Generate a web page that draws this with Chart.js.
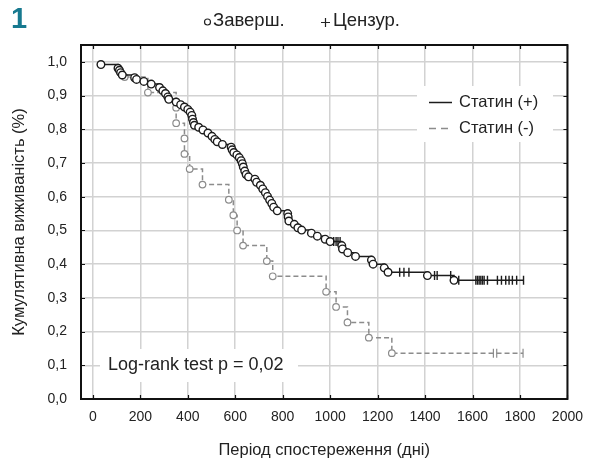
<!DOCTYPE html>
<html><head><meta charset="utf-8">
<script src="https://cdn.jsdelivr.net/npm/chart.js@4/dist/chart.umd.min.js"></script>
<style>html,body{margin:0;padding:0;background:#fff}#wrap{position:relative;width:593px;height:463px}</style>
</head><body><div id="wrap"><canvas id="c" width="593" height="463"></canvas></div>
<script>
// ---- data ----
const seriesNames = ["Статин (+)", "Статин (-)"];
const headerLabels = ["Заверш.", "Цензур."];
const panelLabel = "1";
const logRankText = "Log-rank test p = 0,02";
const xAxisTitle = "Період спостереження (дні)";
const yAxisTitle = "Кумулятивна виживаність (%)";

const posEventDays = [34,106,112,117,124,176,184,215,246,281,295,306,316,320,351,370,386,400,410,417,420,424,428,446,464,485,502,514,524,546,583,587,594,607,617,625,630,634,640,646,656,683,690,706,716,727,736,745,754,762,777,821,823,826,849,864,880,921,946,979,1000,1049,1052,1074,1107,1174,1181,1228,1244,1410,1522];
const posEventSurv = [0.992,0.981,0.975,0.968,0.961,0.953,0.948,0.942,0.934,0.924,0.914,0.906,0.896,0.889,0.881,0.873,0.866,0.859,0.851,0.841,0.830,0.820,0.812,0.806,0.798,0.789,0.779,0.770,0.763,0.755,0.747,0.739,0.731,0.724,0.716,0.707,0.698,0.688,0.676,0.666,0.659,0.652,0.643,0.634,0.623,0.612,0.601,0.590,0.580,0.569,0.558,0.550,0.540,0.528,0.518,0.508,0.501,0.492,0.483,0.474,0.467,0.455,0.445,0.434,0.423,0.412,0.400,0.389,0.376,0.366,0.352];
const posCensorDays = [1015,1025,1033,1042,1293,1311,1332,1440,1451,1508,1542,1614,1621,1628,1635,1642,1649,1663,1705,1722,1740,1754,1768,1786,1815];

const negEventDays = [134,232,351,351,386,386,408,462,573,592,608,633,733,758,983,1025,1073,1163,1260];
const negEventSurv = [0.955,0.909,0.864,0.818,0.773,0.727,0.682,0.636,0.591,0.545,0.500,0.455,0.409,0.364,0.318,0.273,0.227,0.182,0.136];
const negCensorDays = [1688,1702,1813];

const xTickValues = [0,200,400,600,800,1000,1200,1400,1600,1800,2000];
const yTickValues = [0,0.1,0.2,0.3,0.4,0.5,0.6,0.7,0.8,0.9,1.0];
const yTickLabels = ["0,0","0,1","0,2","0,3","0,4","0,5","0,6","0,7","0,8","0,9","1,0"];

// ---- build step data ----
function buildKM(evDays, evSurv, cDays) {
  const pts = evDays.map((t, i) => ({x: t, y: evSurv[i], censor: false, k: i}));
  cDays.forEach((t, j) => {
    let s = 1;
    for (let i = 0; i < evDays.length; i++) if (evDays[i] <= t) s = evSurv[i];
    pts.push({x: t, y: s, censor: true, k: 1000 + j});
  });
  pts.sort((a, b) => a.x - b.x || a.k - b.k);
  return pts;
}
const posData = buildKM(posEventDays, posEventSurv, posCensorDays);
const negData = buildKM(negEventDays, negEventSurv, negCensorDays);

const FONT = "'Liberation Sans', Arial, sans-serif";
const BLACK = '#1c1c1c';
const GRAY = '#8c8c8c';

const decor = {
  id: 'decor',
  beforeDatasetsDraw(chart) {
    const ctx = chart.ctx;
    ctx.save();
    ctx.fillStyle = '#fff';
    ctx.fillRect(417, 86, 136, 56);   // legend box
    ctx.fillRect(100, 349, 198, 33);  // log-rank box
    // legend
    ctx.lineWidth = 1.5;
    ctx.strokeStyle = BLACK;
    ctx.beginPath(); ctx.moveTo(429, 102.5); ctx.lineTo(452, 102.5); ctx.stroke();
    ctx.strokeStyle = GRAY;
    ctx.setLineDash([7, 5]);
    ctx.beginPath(); ctx.moveTo(429, 128.5); ctx.lineTo(452, 128.5); ctx.stroke();
    ctx.setLineDash([]);
    ctx.fillStyle = '#222';
    ctx.font = '16.5px ' + FONT;
    ctx.textBaseline = 'middle';
    ctx.textAlign = 'left';
    ctx.fillText(seriesNames[0], 459, 102);
    ctx.fillText(seriesNames[1], 459, 128);
    ctx.font = '18px ' + FONT;
    ctx.fillText(logRankText, 108, 365);
    ctx.restore();
  },
  afterDatasetsDraw(chart) {
    const ctx = chart.ctx;
    const a = chart.chartArea;
    const xs = chart.scales.x, ys = chart.scales.y;
    ctx.save();
    ctx.strokeStyle = '#111';
    ctx.lineWidth = 1.2;
    ctx.beginPath();
    xTickValues.forEach(v => {
      const px = Math.round(xs.getPixelForValue(v)) + 0.5;
      ctx.moveTo(px, a.bottom); ctx.lineTo(px, a.bottom - 4);
      ctx.moveTo(px, a.top); ctx.lineTo(px, a.top + 4);
    });
    yTickValues.forEach(v => {
      const py = Math.round(ys.getPixelForValue(v)) + 0.5;
      ctx.moveTo(a.left, py); ctx.lineTo(a.left + 4, py);
      ctx.moveTo(a.right, py); ctx.lineTo(a.right - 4, py);
    });
    ctx.stroke();
    ctx.lineWidth = 2;
    ctx.strokeStyle = '#111';
    ctx.strokeRect(a.left, a.top, a.right - a.left, a.bottom - a.top);
    // header
    ctx.fillStyle = '#17798f';
    ctx.font = 'bold 29px ' + FONT;
    ctx.textBaseline = 'middle';
    ctx.textAlign = 'left';
    ctx.fillText(panelLabel, 11, 20);
    ctx.fillStyle = '#222';
    ctx.font = '18.5px ' + FONT;
    ctx.fillText(headerLabels[0], 213, 21);
    ctx.fillText(headerLabels[1], 333, 21);
    ctx.strokeStyle = '#222';
    ctx.lineWidth = 1.2;
    ctx.beginPath(); ctx.arc(207.5, 22, 3, 0, Math.PI * 2); ctx.stroke();
    ctx.beginPath();
    ctx.moveTo(321, 22.5); ctx.lineTo(330, 22.5);
    ctx.moveTo(325.5, 18); ctx.lineTo(325.5, 27);
    ctx.stroke();
    ctx.restore();
  }
};

new Chart(document.getElementById('c'), {
  type: 'line',
  data: {
    datasets: [
      {
        label: seriesNames[0],
        data: posData,
        stepped: true,
        borderColor: BLACK,
        borderWidth: 1.5,
        pointStyle: c => c.raw && c.raw.censor ? 'line' : 'circle',
        pointRotation: c => c.raw && c.raw.censor ? 90 : 0,
        pointRadius: c => c.raw && c.raw.censor ? 4.5 : 3.8,
        pointBorderWidth: 1.4,
        pointBackgroundColor: '#fff',
        pointBorderColor: BLACK
      },
      {
        label: seriesNames[1],
        data: negData,
        stepped: true,
        borderColor: GRAY,
        borderWidth: 1.5,
        borderDash: [5, 3],
        pointStyle: c => c.raw && c.raw.censor ? 'line' : 'circle',
        pointRotation: c => c.raw && c.raw.censor ? 90 : 0,
        pointRadius: c => c.raw && c.raw.censor ? 4.5 : 3.3,
        pointBorderWidth: 1.2,
        pointBackgroundColor: '#fff',
        pointBorderColor: GRAY
      }
    ]
  },
  options: {
    responsive: false,
    animation: false,
    devicePixelRatio: 1,
    layout: {padding: {left: 0, top: 45, right: 22, bottom: 0}},
    plugins: {legend: {display: false}, tooltip: {enabled: false}},
    scales: {
      x: {
        type: 'linear', min: -50, max: 2000,
        afterBuildTicks: s => { s.ticks = xTickValues.map(v => ({value: v})); },
        afterFit: s => { s.height = 64; },
        grid: {color: '#d2d2d2', lineWidth: 1.5, drawTicks: false},
        border: {display: false},
        ticks: {padding: 10, color: '#222', font: {size: 14, family: FONT}, maxRotation: 0,
          callback: v => String(v)},
        title: {display: true, text: xAxisTitle, color: '#222', font: {size: 16.5, family: FONT}, padding: {top: 0, bottom: 3}}
      },
      y: {
        type: 'linear', min: 0, max: 1.05,
        afterBuildTicks: s => { s.ticks = yTickValues.map(v => ({value: v})); },
        afterFit: s => { s.width = 81; },
        grid: {color: '#d2d2d2', lineWidth: 1.5, drawTicks: false},
        border: {display: false},
        ticks: {padding: 14, color: '#222', font: {size: 14, family: FONT},
          callback: (v) => { const i = yTickValues.findIndex(t => Math.abs(t - v) < 1e-6); return i >= 0 ? yTickLabels[i] : ''; }},
        title: {display: true, text: yAxisTitle, color: '#222', font: {size: 16.5, family: FONT}, padding: {top: 10, bottom: 0}}
      }
    }
  },
  plugins: [decor]
});
</script></body></html>
